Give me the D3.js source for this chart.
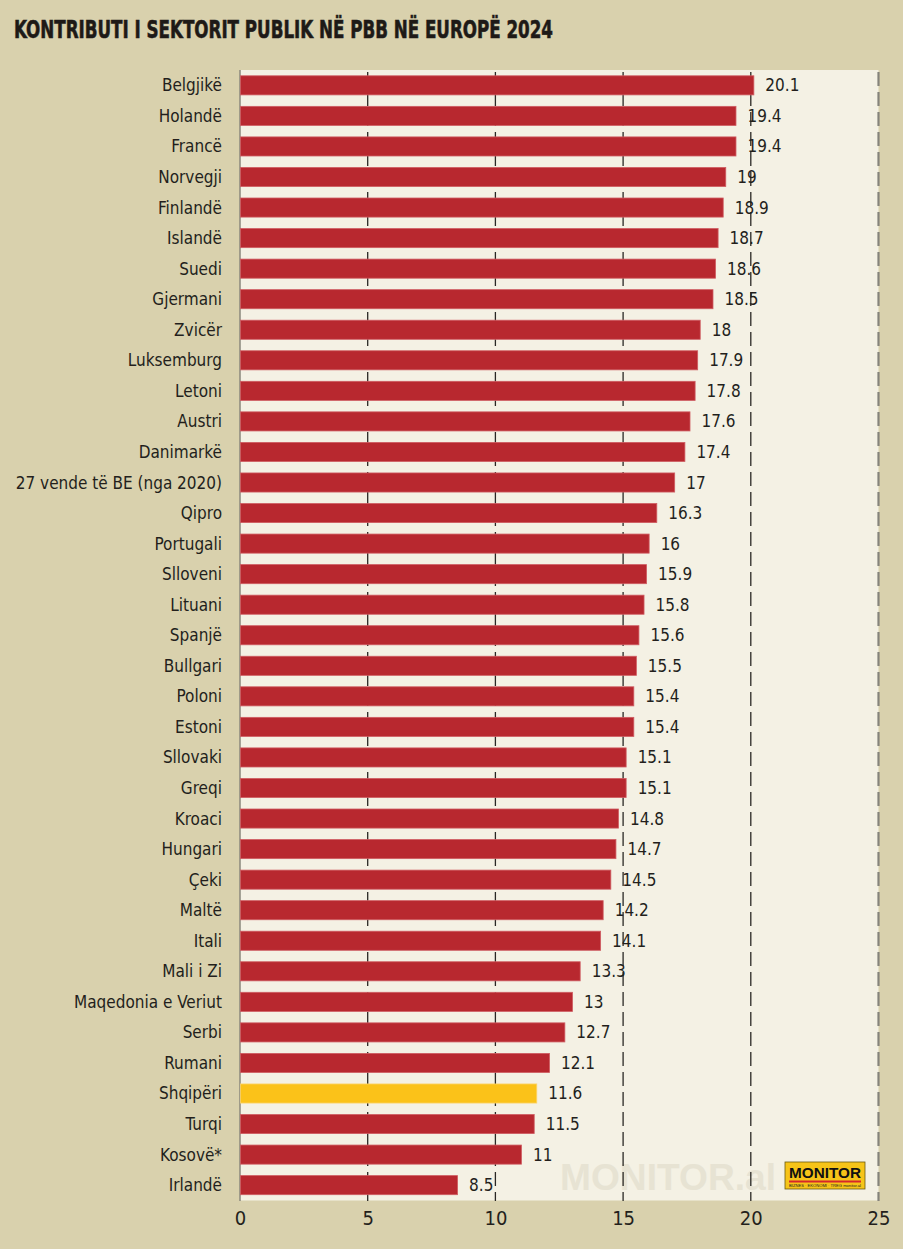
<!DOCTYPE html>
<html><head><meta charset="utf-8">
<script src="https://cdn.jsdelivr.net/npm/d3@7/dist/d3.min.js"></script>
<style>body{margin:0;background:#d9d1ad;}svg{display:block}</style>
</head><body>
<script>
const title = "KONTRIBUTI I SEKTORIT PUBLIK NË PBB NË EUROPË 2024";
const categories = ["Belgjikë","Holandë","Francë","Norvegji","Finlandë","Islandë","Suedi","Gjermani","Zvicër","Luksemburg","Letoni","Austri","Danimarkë","27 vende të BE (nga 2020)","Qipro","Portugali","Slloveni","Lituani","Spanjë","Bullgari","Poloni","Estoni","Sllovaki","Greqi","Kroaci","Hungari","Çeki","Maltë","Itali","Mali i Zi","Maqedonia e Veriut","Serbi","Rumani","Shqipëri","Turqi","Kosovë*","Irlandë"];
const values = [20.1,19.4,19.4,19,18.9,18.7,18.6,18.5,18,17.9,17.8,17.6,17.4,17,16.3,16,15.9,15.8,15.6,15.5,15.4,15.4,15.1,15.1,14.8,14.7,14.5,14.2,14.1,13.3,13,12.7,12.1,11.6,11.5,11,8.5];
const valueLabels = ["20.1","19.4","19.4","19","18.9","18.7","18.6","18.5","18","17.9","17.8","17.6","17.4","17","16.3","16","15.9","15.8","15.6","15.5","15.4","15.4","15.1","15.1","14.8","14.7","14.5","14.2","14.1","13.3","13","12.7","12.1","11.6","11.5","11","8.5"];
const highlight = ["Shqipëri"];
const xTicks = [0,5,10,15,20,25];

const W = 903, H = 1249;
const FONT = "'Liberation Sans Narrow','DejaVu Sans Condensed','Roboto Condensed',sans-serif";
const m = {left:240, right:24, top:70, bottom:48};
const svg = d3.select("body").append("svg").attr("width",W).attr("height",H);
svg.append("rect").attr("width",W).attr("height",H).attr("fill","#d9d1ad");

const x = d3.scaleLinear().domain([0,25]).range([m.left, W - m.right - 0.5]);
const y = d3.scaleBand().domain(categories).range([m.top, H - m.bottom - 0.5]).paddingInner(0.375).paddingOuter(0.19);

// plot background
svg.append("rect").attr("x",x(0)).attr("y",m.top).attr("width",x(25)-x(0)).attr("height",H-m.bottom-m.top-0.5).attr("fill","#f4f1e4");

// title
svg.append("text").attr("x",14).attr("y",38).text(title)
  .attr("font-family",FONT).attr("font-weight","bold").attr("font-size",25)
  .attr("fill","#1e1a17").attr("stroke","#1e1a17").attr("stroke-width",0.6)
  .attr("textLength",539).attr("lengthAdjust","spacingAndGlyphs");

// watermark
svg.append("text").attr("x",560).attr("y",1190).text("MONITOR.al")
  .attr("font-family","'Liberation Sans',Arial,sans-serif").attr("font-weight","bold").attr("font-size",37)
  .attr("fill","#e7e3d3").attr("textLength",216).attr("lengthAdjust","spacingAndGlyphs");

// grid lines
svg.append("g").selectAll("line").data(xTicks.filter(d=>d>0)).join("line")
  .attr("x1",d=>x(d)).attr("x2",d=>x(d)).attr("y1",m.top).attr("y2",H-m.bottom)
  .attr("stroke",d=>d===25?"#85837b":"#2a2825").attr("stroke-width",d=>d===25?2.2:1.3)
  .attr("stroke-dasharray","14,6").attr("stroke-dashoffset",-2);

// axis line
svg.append("line").attr("x1",x(0)).attr("x2",x(0)).attr("y1",m.top).attr("y2",H-m.bottom)
  .attr("stroke","#8a877c").attr("stroke-width",1.5);

// bars
svg.append("g").selectAll("rect").data(categories).join("rect")
  .attr("x",x(0)+0.5).attr("y",d=>y(d))
  .attr("width",(d,i)=>x(values[i])-x(0))
  .attr("height",y.bandwidth())
  .attr("fill",d=>highlight.includes(d)?"#fbc219":"#b8282f")
  .attr("stroke",d=>highlight.includes(d)?"#fcd36a":"#cf5c62").attr("stroke-width",0.8);

// value labels
svg.append("g").selectAll("text").data(categories).join("text")
  .attr("x",(d,i)=>x(values[i])+12).attr("y",d=>y(d)+y.bandwidth()/2+6)
  .text((d,i)=>valueLabels[i])
  .attr("font-family",FONT).attr("font-size",17).attr("fill","#231f1c");

// category labels
svg.append("g").selectAll("text").data(categories).join("text")
  .attr("x",222).attr("y",d=>y(d)+y.bandwidth()/2+6).attr("text-anchor","end")
  .text(d=>d).attr("font-family",FONT).attr("font-size",17).attr("fill","#231f1c");

// x axis tick labels
const ax = svg.append("g").attr("transform",`translate(0,${H-m.bottom})`)
  .call(d3.axisBottom(x).tickValues(xTicks).tickSize(0).tickPadding(10).tickFormat(d3.format("d")));
ax.select(".domain").remove();
ax.selectAll("text").attr("font-family",FONT).attr("font-size",20).attr("fill","#231f1c");

// logo
const lg = svg.append("g").attr("transform","translate(785,1162)");
lg.append("rect").attr("width",80).attr("height",27).attr("fill","#f6c418").attr("stroke","#6b5a10").attr("stroke-width",0.8);
lg.append("text").attr("x",40).attr("y",16).attr("text-anchor","middle").text("MONITOR")
  .attr("font-family","'Liberation Sans',Arial,sans-serif").attr("font-weight","bold").attr("font-size",15)
  .attr("fill","#111").attr("textLength",72).attr("lengthAdjust","spacingAndGlyphs");
lg.append("rect").attr("x",4).attr("y",18.5).attr("width",72).attr("height",2).attr("fill","#d6262c");
lg.append("text").attr("x",4).attr("y",25).text("BIZNES · EKONOMI · TREG      monitor.al")
  .attr("font-family","'Liberation Sans',Arial,sans-serif").attr("font-size",3.5).attr("fill","#222")
  .attr("textLength",72).attr("lengthAdjust","spacingAndGlyphs");
</script>
</body></html>
